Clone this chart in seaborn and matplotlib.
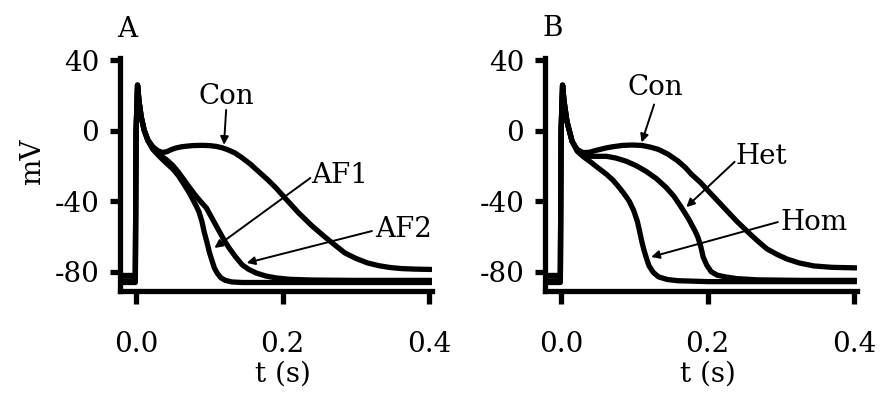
import matplotlib
matplotlib.use("Agg")
import matplotlib.pyplot as plt
import pandas as pd
import seaborn as sns

sns.set_style("ticks")
plt.rcParams["font.family"] = ["DejaVu Serif"]
plt.rcParams["axes.unicode_minus"] = False
for key in ("text.color", "axes.labelcolor", "xtick.color", "ytick.color",
            "axes.edgecolor"):
    plt.rcParams[key] = "black"

# ---- Panel A: control vs. AF remodelling (time in s, membrane potential in mV)
t_a_con = [-0.020, -0.001, 0.000, 0.002, 0.004, 0.007, 0.011, 0.016, 0.023, 0.030,
           0.036, 0.042, 0.048, 0.055, 0.062, 0.070, 0.078, 0.086, 0.094, 0.102,
           0.110, 0.118, 0.126, 0.135, 0.145, 0.156, 0.168, 0.180, 0.191, 0.205,
           0.222, 0.240, 0.258, 0.272, 0.285, 0.300, 0.316, 0.332, 0.347, 0.362,
           0.380, 0.403]
v_a_con = [-82.0, -82.0, 0.0, 26.0, 17.0, 8.0, 0.5, -5.0, -9.0, -11.3,
           -12.2, -11.8, -10.6, -9.6, -9.0, -8.6, -8.3, -8.2, -8.2, -8.4,
           -8.8, -9.6, -10.8, -12.5, -15.3, -18.8, -23.3, -27.8, -32.3, -38.8,
           -46.5, -53.8, -60.2, -64.9, -69.2, -72.3, -74.9, -76.5, -77.5, -78.1,
           -78.4, -78.6]

t_a_af1 = [-0.020, -0.001, 0.000, 0.002, 0.004, 0.007, 0.011, 0.016, 0.023, 0.032,
           0.042, 0.050, 0.058, 0.065, 0.071, 0.077, 0.082, 0.086, 0.090, 0.093,
           0.097, 0.100, 0.104, 0.107, 0.111, 0.116, 0.122, 0.131, 0.145, 0.170,
           0.403]
v_a_af1 = [-86.0, -86.0, 0.0, 26.0, 17.0, 8.0, 0.5, -5.5, -10.5, -14.5,
           -18.5, -21.5, -25.5, -30.0, -34.0, -38.5, -42.5, -46.0, -51.5, -57.3,
           -63.5, -68.7, -74.0, -77.8, -80.8, -83.4, -84.8, -85.7, -86.0, -86.0,
           -86.0]

t_a_af2 = [-0.020, -0.001, 0.000, 0.002, 0.004, 0.007, 0.011, 0.016, 0.023, 0.032,
           0.042, 0.050, 0.058, 0.065, 0.072, 0.080, 0.088, 0.096, 0.105, 0.114,
           0.120, 0.127, 0.136, 0.145, 0.154, 0.164, 0.177, 0.191, 0.210, 0.240,
           0.300, 0.403]
v_a_af2 = [-85.0, -85.0, 0.0, 26.0, 17.0, 8.0, 0.5, -5.0, -10.0, -13.5,
           -16.5, -19.5, -23.5, -27.5, -31.5, -36.0, -40.0, -43.7, -50.5, -57.3,
           -61.8, -66.4, -71.5, -76.0, -78.6, -80.6, -82.3, -83.4, -84.2, -84.6,
           -84.8, -84.8]

# ---- Panel B: control vs. heterozygous / homozygous mutation
t_b_con = [-0.020, -0.001, 0.000, 0.002, 0.004, 0.008, 0.015, 0.022, 0.030, 0.039,
           0.046, 0.053, 0.062, 0.070, 0.084, 0.097, 0.110, 0.122, 0.133, 0.146,
           0.160, 0.170, 0.178, 0.190, 0.200, 0.214, 0.228, 0.241, 0.255, 0.268,
           0.281, 0.295, 0.308, 0.325, 0.345, 0.370, 0.403]
v_b_con = [-82.0, -82.0, 0.0, 26.0, 17.0, 5.4, -5.9, -10.5, -12.3, -12.1,
           -11.2, -10.5, -9.6, -9.0, -8.2, -8.0, -8.2, -9.2, -10.5, -13.2,
           -17.2, -20.9, -24.6, -29.1, -33.6, -39.8, -46.0, -51.7, -57.3, -62.3,
           -66.9, -70.1, -72.6, -74.9, -76.6, -77.4, -77.7]

t_b_het = [-0.020, -0.001, 0.000, 0.002, 0.004, 0.008, 0.015, 0.022, 0.030, 0.039,
           0.050, 0.062, 0.075, 0.089, 0.102, 0.116, 0.130, 0.143, 0.154, 0.164,
           0.174, 0.183, 0.187, 0.191, 0.194, 0.199, 0.205, 0.213, 0.224, 0.240,
           0.268, 0.330, 0.403]
v_b_het = [-85.0, -85.0, 0.0, 26.0, 17.0, 5.4, -5.9, -11.0, -13.3, -14.4,
           -14.4, -14.4, -15.4, -17.2, -19.6, -22.9, -27.0, -31.9, -37.0, -43.2,
           -49.8, -56.8, -60.5, -66.0, -71.5, -76.2, -79.9, -81.8, -82.8, -83.8,
           -84.5, -84.8, -84.8]

t_b_hom = [-0.020, -0.001, 0.000, 0.002, 0.004, 0.008, 0.015, 0.022, 0.030, 0.039,
           0.050, 0.062, 0.071, 0.079, 0.086, 0.093, 0.099, 0.104, 0.107, 0.110,
           0.113, 0.116, 0.120, 0.126, 0.133, 0.145, 0.160, 0.200, 0.300, 0.403]
v_b_hom = [-86.0, -86.0, 0.0, 26.0, 17.0, 5.4, -5.9, -11.5, -14.5, -17.2,
           -20.8, -24.6, -28.0, -31.9, -35.6, -39.8, -45.0, -51.1, -56.5, -62.4,
           -67.3, -71.5, -76.5, -80.3, -82.8, -84.3, -85.0, -85.5, -85.5, -85.5]

y_ticks = [40, 0, -40, -80]
y_tick_labels = ["40", "0", "-40", "-80"]
x_ticks = [0.0, 0.2, 0.4]
x_tick_labels = ["0.0", "0.2", "0.4"]

FS = 20
LW = 3.8

fig = plt.figure(figsize=(8.86, 4.01), dpi=100)
ax_a = fig.add_axes([0.1354, 0.2731, 0.3521, 0.5823])
ax_b = fig.add_axes([0.6151, 0.2731, 0.3521, 0.5823])


def draw_traces(ax, traces):
    for t, v in traces:
        df = pd.DataFrame({"t": t, "v": v})
        sns.lineplot(data=df, x="t", y="v", ax=ax, color="black", lw=LW,
                     estimator=None, sort=False, legend=False)


def style_axes(ax):
    ax.set_xlim(-0.022, 0.404)
    ax.set_ylim(-91.1, 41.4)
    ax.set_yticks(y_ticks)
    ax.set_yticklabels(y_tick_labels)
    ax.set_xticks(x_ticks)
    ax.set_xticklabels(x_tick_labels)
    for side in ("top", "right"):
        ax.spines[side].set_visible(False)
    for side in ("left", "bottom"):
        ax.spines[side].set_linewidth(LW)
        ax.spines[side].set_color("black")
        ax.spines[side].set_capstyle("projecting")
    ax.tick_params(axis="y", direction="out", length=7, width=LW,
                   labelsize=FS, pad=8, color="black", labelcolor="black")
    ax.tick_params(axis="x", direction="out", length=9.5, width=LW,
                   labelsize=FS, pad=19, color="black", labelcolor="black")
    ax.set_xlabel("t (s)", fontsize=FS)
    ax.xaxis.label.set_va("top")
    ax.xaxis.set_label_coords(0.522, -0.295)
    ax.set_ylabel("")
    ax.set_facecolor("white")


def label_arrow(ax, text, text_xy, start, tip, ha="left"):
    ax.text(text_xy[0], text_xy[1], text, fontsize=FS, ha=ha, va="center")
    ax.annotate("", xy=tip, xytext=start,
                arrowprops=dict(arrowstyle="-|>", color="black", lw=1.4,
                                mutation_scale=12, shrinkA=0, shrinkB=0))


draw_traces(ax_a, [(t_a_con, v_a_con), (t_a_af1, v_a_af1), (t_a_af2, v_a_af2)])
draw_traces(ax_b, [(t_b_con, v_b_con), (t_b_het, v_b_het), (t_b_hom, v_b_hom)])
style_axes(ax_a)
style_axes(ax_b)

ax_a.set_ylabel("mV", fontsize=FS)
ax_a.yaxis.label.set_va("center")
ax_a.yaxis.label.set_ha("center")
ax_a.yaxis.set_label_coords(-0.279, 0.554)

ax_a.text(0.022, 1.12, "A", transform=ax_a.transAxes, fontsize=FS,
          ha="center", va="center")
ax_b.text(0.026, 1.128, "B", transform=ax_b.transAxes, fontsize=FS,
          ha="center", va="center")

label_arrow(ax_a, "Con", (0.123, 19.3), (0.123, 11.9), (0.120, -7.9), ha="center")
label_arrow(ax_a, "AF1", (0.239, -25.0), (0.238, -26.7), (0.107, -66.4))
label_arrow(ax_a, "AF2", (0.326, -56.2), (0.322, -56.8), (0.151, -74.9))

label_arrow(ax_b, "Con", (0.129, 24.6), (0.127, 15.0), (0.110, -6.5), ha="center")
label_arrow(ax_b, "Het", (0.238, -14.4), (0.237, -17.5), (0.171, -43.2))
label_arrow(ax_b, "Hom", (0.299, -51.7), (0.296, -51.7), (0.123, -71.5))

fig.savefig("out.png", dpi=100, facecolor="white")
